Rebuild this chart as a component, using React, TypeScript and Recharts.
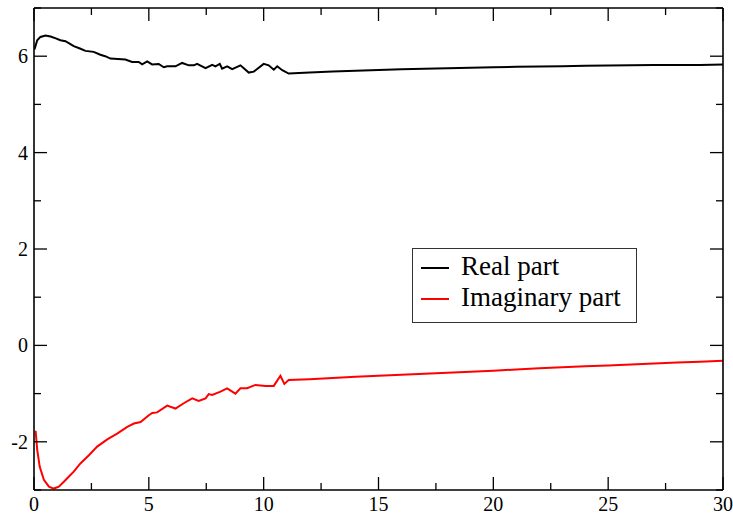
import { LineChart, Line, XAxis, YAxis } from 'recharts'

const realX = [0.02, 0.14, 0.28, 0.5, 0.72, 0.95, 1.15, 1.37, 1.55, 1.73, 2.0, 2.24, 2.6, 2.89, 3.1, 3.33, 3.65, 3.98, 4.27, 4.56, 4.71, 4.93, 5.14, 5.43, 5.65, 5.8, 6.16, 6.45, 6.74, 6.96, 7.1, 7.47, 7.76, 7.9, 8.09, 8.19, 8.41, 8.63, 8.99, 9.35, 9.57, 10.0, 10.22, 10.44, 10.59, 10.81, 11.09, 12, 13, 14, 15, 16, 17, 18, 19, 20, 21, 22, 23, 24, 25, 26, 27, 28, 29, 30]
const realY = [6.14, 6.33, 6.4, 6.43, 6.41, 6.37, 6.33, 6.31, 6.26, 6.21, 6.16, 6.11, 6.09, 6.03, 6.0, 5.95, 5.94, 5.93, 5.88, 5.88, 5.83, 5.89, 5.83, 5.84, 5.77, 5.79, 5.79, 5.86, 5.81, 5.81, 5.84, 5.75, 5.82, 5.79, 5.84, 5.74, 5.79, 5.73, 5.81, 5.66, 5.68, 5.84, 5.81, 5.72, 5.79, 5.71, 5.64, 5.66, 5.68, 5.7, 5.715, 5.73, 5.74, 5.75, 5.76, 5.77, 5.78, 5.785, 5.79, 5.8, 5.805, 5.81, 5.815, 5.82, 5.82, 5.83]

const imagX = [0.07, 0.14, 0.25, 0.43, 0.65, 0.86, 1.08, 1.3, 1.5, 1.73, 2.02, 2.39, 2.75, 3.19, 3.62, 4.06, 4.35, 4.64, 5.0, 5.15, 5.36, 5.8, 6.16, 6.52, 6.89, 7.17, 7.47, 7.61, 7.76, 8.12, 8.41, 8.77, 8.99, 9.28, 9.64, 10.08, 10.44, 10.73, 10.9, 11.09, 12, 13, 14, 15, 16, 17, 18, 19, 20, 21, 22, 23, 24, 25, 26, 27, 28, 29, 30]
const imagY = [-1.77, -2.17, -2.52, -2.79, -2.93, -2.97, -2.93, -2.83, -2.73, -2.62, -2.45, -2.28, -2.1, -1.95, -1.83, -1.69, -1.62, -1.59, -1.45, -1.4, -1.39, -1.25, -1.31, -1.2, -1.1, -1.15, -1.1, -1.01, -1.03, -0.96, -0.89, -1.0, -0.89, -0.89, -0.82, -0.84, -0.84, -0.63, -0.8, -0.72, -0.7, -0.675, -0.65, -0.63, -0.61, -0.59, -0.565, -0.545, -0.525, -0.5, -0.475, -0.455, -0.435, -0.415, -0.395, -0.375, -0.355, -0.34, -0.32]

const xTicks = [0, 2.5, 5, 7.5, 10, 12.5, 15, 17.5, 20, 22.5, 25, 27.5, 30]
const yTicks = [-3, -2, -1, 0, 1, 2, 3, 4, 5, 6, 7]

const seriesNames = ['Real part', 'Imaginary part']
const seriesColors = ['#000000', '#ff0000']

const realData = realX.map((x, i) => ({ x, y: realY[i] }))
const imagData = imagX.map((x, i) => ({ x, y: imagY[i] }))

const FONT = 'Liberation Serif'
const MAJOR = 13
const MINOR = 7

const isMajorX = (v: number) => v % 5 === 0
const isMajorY = (v: number) => v % 2 === 0

function BottomTick(props: any) {
  const { x, y, payload } = props
  const major = isMajorX(payload.value)
  return (
    <g>
      <line x1={x} x2={x} y1={y} y2={y - (major ? MAJOR : MINOR)} stroke="#000" strokeWidth={1.3} />
      {major && (
        <text x={x} y={y + 21} textAnchor="middle" fontFamily={FONT} fontSize={20} fill="#000">
          {payload.value}
        </text>
      )}
    </g>
  )
}

function TopTick(props: any) {
  const { x, y, payload } = props
  const major = isMajorX(payload.value)
  return <line x1={x} x2={x} y1={y} y2={y + (major ? MAJOR : MINOR)} stroke="#000" strokeWidth={1.3} />
}

function LeftTick(props: any) {
  const { x, y, payload } = props
  const major = isMajorY(payload.value)
  return (
    <g>
      <line x1={x} x2={x + (major ? MAJOR : MINOR)} y1={y} y2={y} stroke="#000" strokeWidth={1.3} />
      {major && (
        <text x={x - 6} y={y + 7} textAnchor="end" fontFamily={FONT} fontSize={20} fill="#000">
          {payload.value}
        </text>
      )}
    </g>
  )
}

function RightTick(props: any) {
  const { x, y, payload } = props
  const major = isMajorY(payload.value)
  return <line x1={x} x2={x - (major ? MAJOR : MINOR)} y1={y} y2={y} stroke="#000" strokeWidth={1.3} />
}

// legend drawn as an overlay so it doesn't eat into the plot area
function LegendBox() {
  return (
    <div
      style={{
        position: 'absolute',
        left: 412,
        top: 248,
        width: 223,
        height: 71,
        border: '1px solid #333',
        background: '#fff',
        fontFamily: FONT,
        fontSize: 27,
        color: '#000',
        paddingTop: 2,
        boxSizing: 'content-box',
      }}
    >
      {seriesNames.map((name, i) => (
        <div key={name} style={{ display: 'flex', alignItems: 'center', height: 31, lineHeight: '31px' }}>
          <svg width={48} height={31} style={{ display: 'block' }}>
            <line x1={8} x2={36} y1={17} y2={17} stroke={seriesColors[i]} strokeWidth={2} />
          </svg>
          <span style={{ whiteSpace: 'nowrap' }}>{name}</span>
        </div>
      ))}
    </div>
  )
}

export default function App() {
  return (
    <div style={{ position: 'absolute', left: 0, top: 0, width: 733, height: 515, background: '#fff', fontFamily: FONT }}>
      <LineChart width={733} height={515} margin={{ top: 0, right: 0, bottom: 0, left: 0 }}>
        <XAxis
          xAxisId="bottom"
          dataKey="x"
          type="number"
          domain={[0, 30]}
          ticks={xTicks}
          interval={0}
          height={25}
          tickSize={0}
          tickMargin={0}
          tickLine={false}
          tick={<BottomTick />}
          axisLine={{ stroke: '#000', strokeWidth: 1.6 }}
          allowDataOverflow
        />
        <XAxis
          xAxisId="top"
          orientation="top"
          dataKey="x"
          type="number"
          domain={[0, 30]}
          ticks={xTicks}
          interval={0}
          height={8}
          tickSize={0}
          tickMargin={0}
          tickLine={false}
          tick={<TopTick />}
          axisLine={{ stroke: '#000', strokeWidth: 1.6 }}
          allowDataOverflow
        />
        <YAxis
          yAxisId="left"
          type="number"
          domain={[-3, 7]}
          ticks={yTicks}
          interval={0}
          width={34}
          tickSize={0}
          tickMargin={0}
          tickLine={false}
          tick={<LeftTick />}
          axisLine={{ stroke: '#000', strokeWidth: 1.6 }}
          allowDataOverflow
        />
        <YAxis
          yAxisId="right"
          orientation="right"
          type="number"
          domain={[-3, 7]}
          ticks={yTicks}
          interval={0}
          width={10}
          tickSize={0}
          tickMargin={0}
          tickLine={false}
          tick={<RightTick />}
          axisLine={{ stroke: '#000', strokeWidth: 1.6 }}
          allowDataOverflow
        />
        <Line
          xAxisId="bottom"
          yAxisId="left"
          data={realData}
          dataKey="y"
          name={seriesNames[0]}
          type="linear"
          stroke={seriesColors[0]}
          strokeWidth={2}
          dot={false}
          isAnimationActive={false}
        />
        <Line
          xAxisId="bottom"
          yAxisId="left"
          data={imagData}
          dataKey="y"
          name={seriesNames[1]}
          type="linear"
          stroke={seriesColors[1]}
          strokeWidth={2}
          dot={false}
          isAnimationActive={false}
        />
      </LineChart>
      <LegendBox />
    </div>
  )
}
